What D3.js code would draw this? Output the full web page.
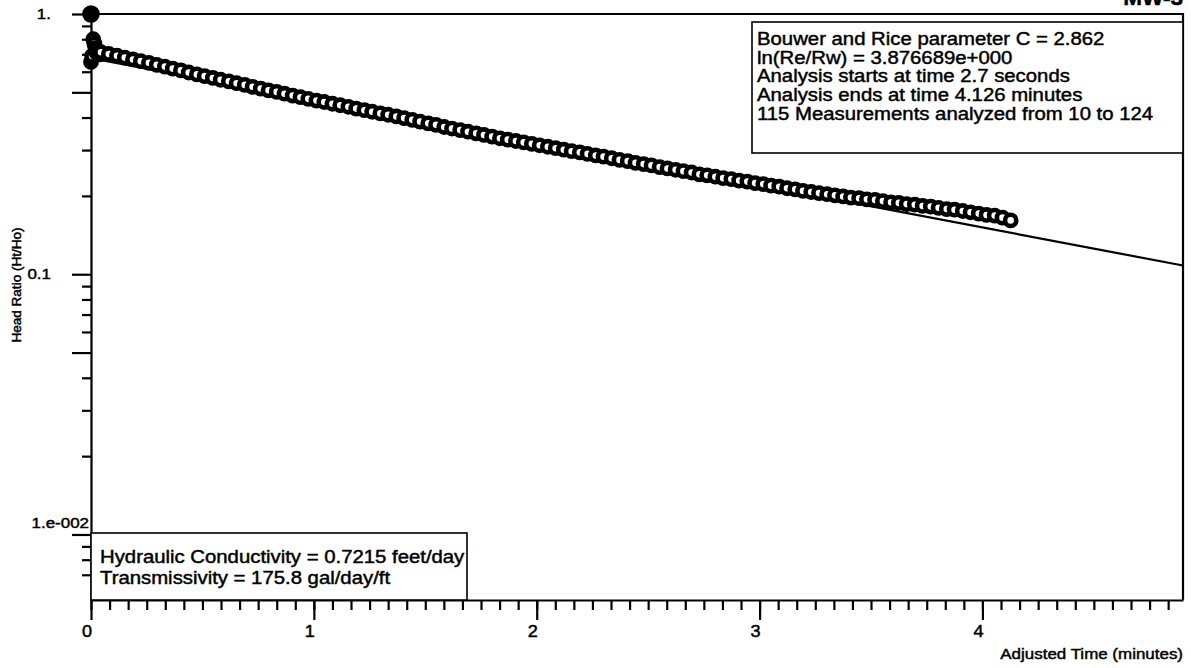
<!DOCTYPE html>
<html>
<head>
<meta charset="utf-8">
<script src="https://cdn.jsdelivr.net/npm/d3@7"></script>
<style>
  body { margin: 0; background: #fff; }
  svg { display: block; font-family: "Liberation Sans", Arial, sans-serif; }
</style>
</head>
<body>
<div id="chart"></div>
<script>
// ---- data ----
const wellName = "MW-3";
const xTitle = "Adjusted Time (minutes)";
const yTitle = "Head Ratio (Ht/Ho)";

const xTickValues = [0, 1, 2, 3, 4];
const xTickLabels = ["0", "1", "2", "3", "4"];
const xMinorStepSec = 5; // minor ticks every 5 seconds

const yTickValues = [1, 0.1, 0.01];
const yTickLabels = ["1.", "0.1", "1.e-002"];
const yHalfTicks = [0.5, 0.05];
const yMinorTicks = [0.9, 0.8, 0.7, 0.6, 0.4, 0.3, 0.2,
                     0.09, 0.08, 0.07, 0.06, 0.04, 0.03, 0.02,
                     0.009, 0.008, 0.007];

// measurements 1-9 (seconds, head ratio)
const earlyTimes = [0, 0, 0.3, 0.6, 0.9, 1.2, 1.5, 1.8, 2.1, 2.4];
const earlyRatios = [1.0, 0.654, 0.69, 0.80, 0.77, 0.74, 0.71, 0.72, 0.715, 0.70];

// measurements 10-124 (seconds, head ratio)
const times = [
  2.7, 4.8, 7.0, 9.1, 11.3, 13.4, 15.6, 17.7, 19.9, 22.0,
  24.2, 26.3, 28.5, 30.6, 32.8, 34.9, 37.1, 39.2, 41.4, 43.5,
  45.7, 47.8, 50.0, 52.1, 54.3, 56.4, 58.5, 60.7, 62.8, 65.0,
  67.1, 69.3, 71.4, 73.6, 75.7, 77.9, 80.0, 82.2, 84.3, 86.5,
  88.6, 90.8, 92.9, 95.1, 97.2, 99.4, 101.5, 103.7, 105.8, 108.0,
  110.1, 112.2, 114.4, 116.5, 118.7, 120.8, 123.0, 125.1, 127.3, 129.4,
  131.6, 133.7, 135.9, 138.0, 140.2, 142.3, 144.5, 146.6, 148.8, 150.9,
  153.1, 155.2, 157.4, 159.5, 161.7, 163.8, 165.9, 168.1, 170.2, 172.4,
  174.5, 176.7, 178.8, 181.0, 183.1, 185.3, 187.4, 189.6, 191.7, 193.9,
  196.0, 198.2, 200.3, 202.5, 204.6, 206.8, 208.9, 211.1, 213.2, 215.4,
  217.5, 219.6, 221.8, 223.9, 226.1, 228.2, 230.4, 232.5, 234.7, 236.8,
  239.0, 241.1, 243.3, 245.4, 247.6
];
const ratios = [
  0.713, 0.702, 0.691, 0.680, 0.669, 0.659, 0.649, 0.638, 0.628, 0.617,
  0.607, 0.596, 0.586, 0.577, 0.568, 0.559, 0.551, 0.542, 0.534, 0.525,
  0.517, 0.509, 0.502, 0.494, 0.486, 0.479, 0.472, 0.465, 0.459, 0.452,
  0.446, 0.440, 0.433, 0.427, 0.421, 0.415, 0.410, 0.404, 0.398, 0.392,
  0.386, 0.380, 0.375, 0.368, 0.363, 0.358, 0.353, 0.348, 0.343, 0.338,
  0.333, 0.329, 0.325, 0.321, 0.317, 0.313, 0.309, 0.305, 0.301, 0.297,
  0.294, 0.290, 0.286, 0.283, 0.279, 0.275, 0.272, 0.268, 0.265, 0.262,
  0.258, 0.255, 0.252, 0.249, 0.246, 0.242, 0.240, 0.237, 0.234, 0.232,
  0.229, 0.227, 0.224, 0.222, 0.219, 0.217, 0.214, 0.212, 0.209, 0.207,
  0.205, 0.203, 0.201, 0.199, 0.197, 0.196, 0.194, 0.193, 0.191, 0.189,
  0.188, 0.186, 0.185, 0.183, 0.182, 0.180, 0.178, 0.177, 0.175, 0.173,
  0.171, 0.169, 0.168, 0.165, 0.161
];

// Bouwer & Rice fitted line (minutes, head ratio)
const fitTimes = [0, 4.9];
const fitRatios = [0.677, 0.108];

const infoLines = [
  "Bouwer and Rice parameter C = 2.862",
  "ln(Re/Rw) = 3.876689e+000",
  "Analysis starts at time 2.7 seconds",
  "Analysis ends at time 4.126 minutes",
  "115 Measurements analyzed from 10 to 124"
];
const resultLines = [
  "Hydraulic Conductivity = 0.7215 feet/day",
  "Transmissivity = 175.8 gal/day/ft"
];

// ---- drawing ----
const width = 1191, height = 668;
const SX = 1.13; // the scanned page is a bit wider than tall

const svg = d3.select("#chart").append("svg")
  .attr("width", width).attr("height", height);

const x = d3.scaleLinear().domain([0, 4.9]).range([91, 1183]);
const y = d3.scaleLog().domain([0.0056, 1]).range([600, 14]);
const [yBottom, yTop] = y.range();

// scanned print: text a little heavy
function label(g, txt, px, py, size, anchor, rot) {
  return g.append("text")
    .attr("transform", `translate(${px},${py})` + (rot ? ` rotate(${rot})` : "") + ` scale(${SX},1)`)
    .attr("text-anchor", anchor || "start")
    .style("font-size", size + "px")
    .attr("fill", "#000")
    .attr("stroke", "#000").attr("stroke-width", 0.45)
    .text(txt);
}

// frame (top and right)
svg.append("path")
  .attr("d", `M${x.range()[0]},${yTop}H${x.range()[1]}V${yBottom}`)
  .attr("fill", "none").attr("stroke", "#000").attr("stroke-width", 2.2);

// x axis
const xMinor = d3.range(0, 4.9, xMinorStepSec / 60);
const gx = svg.append("g").attr("transform", `translate(0,${yBottom})`);
gx.call(d3.axisBottom(x).tickValues(xMinor).tickSize(10).tickSizeOuter(0).tickFormat(""));
gx.append("g").call(d3.axisBottom(x).tickValues(xTickValues).tickSize(20).tickFormat(""))
  .select(".domain").remove();
gx.selectAll("line, path").attr("stroke", "#000").attr("stroke-width", 2.2);

xTickValues.forEach((v, i) => {
  label(svg, xTickLabels[i], x(v) - 4, 637, 16, "middle");
});
label(svg, xTitle, x.range()[1], 659, 15, "end");

// y axis
const gy = svg.append("g").attr("transform", `translate(${x.range()[0]},0)`);
gy.call(d3.axisLeft(y).tickValues(yMinorTicks).tickSize(9).tickSizeOuter(0).tickFormat(""));
gy.append("g").call(d3.axisLeft(y).tickValues(yTickValues.concat(yHalfTicks)).tickSize(19).tickFormat(""))
  .select(".domain").remove();
gy.selectAll("line, path").attr("stroke", "#000").attr("stroke-width", 2.2);

yTickValues.forEach((v, i) => {
  const last = i === yTickValues.length - 1;
  // the smallest decade label is tucked above its tick against the axis
  label(svg, yTickLabels[i], last ? x.range()[0] - 2 : 51, y(v) + (last ? -6 : 5), 15, "end");
});
label(svg, yTitle, 21, 285, 12, "middle", -90);

// well name, cut off at the top of the page
label(svg, wellName, x.range()[1], 5, 20, "end").style("font-weight", "bold");

// fitted line
const line = d3.line().x(d => x(d[0])).y(d => y(d[1]));
svg.append("path")
  .datum(fitTimes.map((t, i) => [t, fitRatios[i]]))
  .attr("d", line)
  .attr("fill", "none").attr("stroke", "#000").attr("stroke-width", 2.2);

// measurements
const pts = earlyTimes.map((t, i) => [t / 60, earlyRatios[i]])
  .concat(times.map((t, i) => [t / 60, ratios[i]]));
svg.append("g").selectAll("circle")
  .data(pts)
  .join("circle")
  .attr("cx", d => x(d[0]))
  .attr("cy", d => y(d[1]))
  .attr("r", (d, i) => i === 0 ? 6.5 : 5.6)
  .attr("fill", (d, i) => i < 2 ? "#000" : "#fff")
  .attr("stroke", "#000")
  .attr("stroke-width", 4.6);

// parameter box (top right)
const infoBox = svg.append("g");
infoBox.append("rect")
  .attr("x", 752).attr("y", 22).attr("width", x.range()[1] - 752).attr("height", 131)
  .attr("fill", "#fff").attr("stroke", "#000").attr("stroke-width", 1.6);
infoLines.forEach((s, i) => label(infoBox, s, 757, 45 + i * 18.7, 18));

// result box (bottom left)
const resBox = svg.append("g");
resBox.append("rect")
  .attr("x", x.range()[0]).attr("y", 533).attr("width", 467 - x.range()[0]).attr("height", yBottom - 533)
  .attr("fill", "#fff").attr("stroke", "#000").attr("stroke-width", 1.6);
resultLines.forEach((s, i) => label(resBox, s, 100, 563 + i * 21, 18));
</script>
</body>
</html>
